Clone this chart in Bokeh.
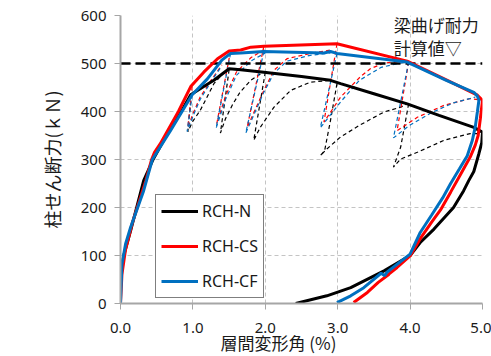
from bokeh.plotting import figure
from bokeh.models import Legend, LegendItem, Label, Range1d, FixedTicker, PrintfTickFormatter, Title
from bokeh.embed import file_html
from bokeh.resources import INLINE

# ---- data ----
# envelope (skeleton) curves incl. final unloading: drift angle (%) / shear force (kN)
n_x = [0, 0, 0.05, 0.14, 0.32, 0.45, 0.67, 0.84, 0.97, 1.15, 1.29, 1.50, 1.66, 1.98, 2.5, 2.9, 3.04, 3.5, 3.96,
       4.4, 4.88, 5.0, 4.99, 4.95, 4.88, 4.81, 4.74, 4.6, 4.33, 4.14, 4.0, 3.64, 3.18, 2.85, 2.42]
n_y = [0, 62, 103, 152, 256, 300, 360, 400, 435, 452, 465, 489, 487, 482, 473, 465, 458, 437, 416,
       392, 367, 357, 335, 312, 275, 256, 235, 200, 155, 127, 100, 68, 33, 16, 0]

cs_x = [0, 0.02, 0.07, 0.16, 0.35, 0.43, 0.47, 0.55, 0.80, 0.97, 1.15, 1.34, 1.50, 1.66, 1.8, 1.98, 2.99,
        3.96, 4.5, 4.93, 5.0, 4.97, 4.94, 4.90, 4.83, 4.70, 4.56, 4.42, 4.3, 4.14, 4.0, 3.82, 3.68, 3.71,
        3.56, 3.41, 3.22]
cs_y = [0, 61, 113, 166, 256, 300, 315, 333, 400, 452, 482, 510, 526, 528, 534, 536, 541,
        505, 466, 434, 423, 385, 350, 330, 305, 270, 232, 195, 170, 135, 99, 75, 58, 61,
        44, 23, 2]

cf_x = [0, 0.02, 0.07, 0.14, 0.32, 0.44, 0.69, 0.85, 0.99, 1.20, 1.40, 1.52, 1.66, 1.98, 2.81, 2.9, 2.99,
        3.96, 4.5, 4.88, 4.93, 4.95, 4.93, 4.90, 4.86, 4.79, 4.68, 4.56, 4.45, 4.3, 4.14, 4.0, 3.68, 3.65,
        3.60, 3.36, 3.18, 2.99]
cf_y = [0, 82, 124, 159, 235, 300, 360, 400, 435, 468, 507, 521, 522, 525, 522, 525, 521,
        503, 465, 440, 432, 423, 400, 368, 340, 308, 280, 250, 220, 185, 148, 103, 65, 58,
        63, 33, 16, 2]

# unloading / reloading loops (thin dashed)
n_loops_x = [[0.98, 0.93, 1.0, 1.1, 1.29, 1.45],
             [1.50, 1.38, 1.45, 1.55, 1.65, 1.8, 1.95],
             [2.0, 1.84, 1.93, 2.12, 2.35, 2.62, 2.9],
             [2.99, 2.9, 2.82, 2.76, 2.85, 3.04, 3.31, 3.64, 3.87, 3.96],
             [3.98, 3.87, 3.77, 3.87, 4.1, 4.47, 4.83, 4.97]]
n_loops_y = [[437, 358, 380, 402, 458, 485],
             [487, 355, 385, 415, 440, 465, 480],
             [482, 340, 367, 409, 444, 461, 465],
             [458, 381, 319, 308, 322, 347, 372, 399, 409, 416],
             [416, 326, 284, 301, 315, 340, 354, 354]]

cs_loops_x = [[0.99, 0.93, 1.0, 1.1, 1.25, 1.4],
              [1.52, 1.33, 1.45, 1.6, 1.8, 2.0],
              [1.98, 1.75, 1.98, 2.12, 2.30, 2.62, 2.9],
              [2.99, 2.81, 3.04, 3.31, 3.45, 3.64, 3.9],
              [3.98, 3.82, 4.10, 4.47, 4.83, 4.97]]
cs_loops_y = [[452, 367, 395, 430, 465, 497],
              [526, 375, 432, 482, 512, 530],
              [536, 367, 444, 486, 510, 521, 528],
              [541, 378, 430, 472, 489, 501, 505],
              [503, 360, 388, 413, 427, 424]]

cf_loops_x = [[0.99, 0.92, 1.0, 1.1, 1.25, 1.4],
              [1.52, 1.32, 1.45, 1.6, 1.8, 2.0],
              [1.98, 1.73, 1.98, 2.12, 2.30, 2.62, 2.9],
              [2.99, 2.76, 3.04, 3.30, 3.6, 3.9],
              [3.98, 3.77, 4.0, 4.3, 4.6, 4.9]]
cf_loops_y = [[435, 358, 390, 425, 462, 495],
              [521, 365, 425, 475, 505, 522],
              [525, 355, 440, 480, 505, 517, 522],
              [521, 366, 420, 465, 492, 502],
              [503, 345, 372, 398, 418, 430]]

beam_x = [0, 5.0]
beam_y = [500, 500]

x_ticks = [0, 1, 2, 3, 4, 5]
y_ticks = [0, 100, 200, 300, 400, 500, 600]
names = ["RCH-N", "RCH-CS", "RCH-CF"]
colors = ["black", "#ff0000", "#0070c0"]

JP = "Noto Sans CJK JP"
LAT = "Noto Sans"

p = figure(width=491, height=356, output_backend="svg", toolbar_location=None,
           x_range=Range1d(0, 5.0), y_range=Range1d(0, 600),
           min_border_left=120, min_border_top=15, min_border_right=9, min_border_bottom=53)
p.outline_line_color = None
p.background_fill_color = "white"

for ax in (p.xaxis, p.yaxis):
    ax.axis_line_color = "#a6a6a6"
    ax.axis_line_width = 2
    ax.major_tick_line_color = "#a6a6a6"
    ax.major_tick_out = 6
    ax.major_tick_in = 0
    ax.minor_tick_line_color = None
    ax.major_label_text_font = LAT
    ax.major_label_text_font_size = "15px"
    ax.major_label_text_color = "#1a1a1a"

p.xaxis.ticker = FixedTicker(ticks=x_ticks)
p.yaxis.ticker = FixedTicker(ticks=y_ticks)
p.xaxis.formatter = PrintfTickFormatter(format="%.1f")
p.yaxis.formatter = PrintfTickFormatter(format="%d")
p.xaxis.major_label_standoff = 13
p.yaxis.major_label_standoff = 8

p.yaxis.axis_label = "柱せん断力(ｋＮ)"
p.yaxis.axis_label_text_font = JP
p.yaxis.axis_label_text_font_size = "18px"
p.yaxis.axis_label_text_font_style = "normal"
p.yaxis.axis_label_text_color = "#1a1a1a"
p.yaxis.axis_label_standoff = 13

for g in (p.xgrid, p.ygrid):
    g.grid_line_color = "#c4c4c4"
    g.grid_line_dash = "4 3"
    g.grid_line_width = 1
p.xgrid.ticker = FixedTicker(ticks=x_ticks)
p.ygrid.ticker = FixedTicker(ticks=y_ticks)

# dashed loops
p.multi_line(n_loops_x, n_loops_y, line_color=colors[0], line_width=1.2, line_dash="4 3")
p.multi_line(cs_loops_x, cs_loops_y, line_color=colors[1], line_width=1.2, line_dash="4 3")
p.multi_line(cf_loops_x, cf_loops_y, line_color=colors[2], line_width=1.2, line_dash="4 3")

# beam flexural strength line
p.line(beam_x, beam_y, line_color="black", line_width=2.5, line_dash="10 5")

r_n = p.line(n_x, n_y, line_color=colors[0], line_width=3)
r_cs = p.line(cs_x, cs_y, line_color=colors[1], line_width=3)
r_cf = p.line(cf_x, cf_y, line_color=colors[2], line_width=3)

legend = Legend(items=[LegendItem(label=names[0], renderers=[r_n]),
                       LegendItem(label=names[1], renderers=[r_cs]),
                       LegendItem(label=names[2], renderers=[r_cf])],
                location=(35, 5), glyph_width=37, glyph_height=20, label_height=20,
                spacing=13, padding=5, margin=0, label_standoff=4,
                label_text_font=LAT, label_text_font_size="16px", label_text_color="#1a1a1a",
                border_line_color="black", border_line_width=1, background_fill_alpha=1)
p.add_layout(legend)

p.add_layout(Label(x=3.775, y=582, text="梁曲げ耐力", text_font=JP, text_font_size="17px",
                   text_baseline="middle", text_align="left", text_color="#1a1a1a"))
p.add_layout(Label(x=3.775, y=534, text="計算値▽", text_font=JP, text_font_size="17px",
                   text_baseline="middle", text_align="left", text_color="#1a1a1a"))

xt = Title(text="層間変形角 (%)", align="left", offset=100, standoff=-15,
           text_font=JP, text_font_size="17px", text_font_style="normal", text_color="#1a1a1a")
p.add_layout(xt, "below")

open("out.html", "w").write(file_html(p, INLINE))
